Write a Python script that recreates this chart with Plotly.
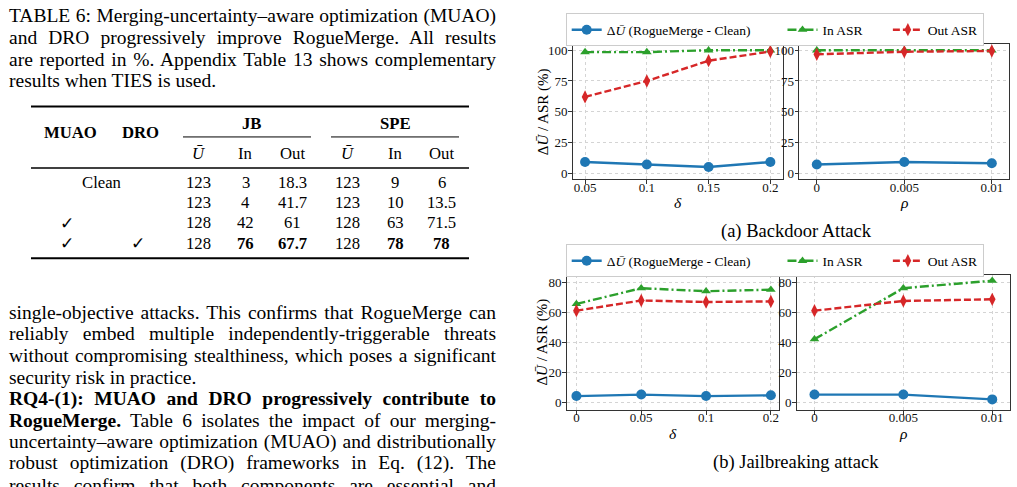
import json
import plotly.graph_objects as go

W, H = 1017, 487

# ---------------- chart data ----------------
delta_bd = ["0.05", "0.1", "0.15", "0.2"]
rho_bd = ["0", "0.005", "0.01"]
delta_jb = ["0", "0.05", "0.1", "0.2"]
rho_jb = ["0", "0.005", "0.01"]

bd_delta_du = [9, 7, 5, 9]
bd_delta_in = [98.5, 98.5, 100, 100]
bd_delta_out = [62, 75, 91.5, 99]
bd_rho_du = [7, 9, 8]
bd_rho_in = [100, 100, 100]
bd_rho_out = [96.7, 98.8, 99.4]

jb_delta_du = [4, 5, 4, 4.5]
jb_delta_in = [65.5, 76, 74, 75]
jb_delta_out = [61, 67.8, 66.8, 67.2]
jb_rho_du = [5, 5, 1.8]
jb_rho_in = [42, 76, 81]
jb_rho_out = [61, 67.5, 68.6]

yticks_bd = [0, 25, 50, 75, 100]
yticks_jb = [0, 20, 40, 60, 80]

series_names = ["Δ<i>Ū</i> (RogueMerge - Clean)", "In ASR", "Out ASR"]
legend_pad = [8, 6, 0]  # trailing non-breaking spaces used as legend item spacing

# ---------------- table data ----------------
tbl_muao = ["", "", "✓", "✓"]
tbl_dro = ["", "", "", "✓"]
tbl_jb_u = ["123", "123", "128", "128"]
tbl_jb_in = ["3", "4", "42", "<b>76</b>"]
tbl_jb_out = ["18.3", "41.7", "61", "<b>67.7</b>"]
tbl_spe_u = ["123", "123", "128", "128"]
tbl_spe_in = ["9", "10", "63", "<b>78</b>"]
tbl_spe_out = ["6", "13.5", "71.5", "<b>78</b>"]
tbl_sub = ["<i>Ū</i>", "In", "Out", "<i>Ū</i>", "In", "Out"]

caption_lines = [
    "TABLE 6: Merging-uncertainty–aware optimization (MUAO)",
    "and DRO progressively improve RogueMerge. All results",
    "are reported in %. Appendix Table 13 shows complementary",
    "results when TIES is used.",
]
caption_justify = [True, True, True, False]
body_lines = [
    "single-objective attacks. This confirms that RogueMerge can",
    "reliably embed multiple independently-triggerable threats",
    "without compromising stealthiness, which poses a significant",
    "security risk in practice.",
    "<b>RQ4-(1): MUAO and DRO progressively contribute to</b>",
    "<b>RogueMerge.</b> Table 6 isolates the impact of our merging-",
    "uncertainty–aware optimization (MUAO) and distributionally",
    "robust optimization (DRO) frameworks in Eq. (12). The",
    "results confirm that both components are essential and",
]
body_justify = [True, True, True, False, True, True, True, True, True]

SERIF = "Liberation Serif"
BLUE, GREEN, RED = "#1f77b4", "#2ca02c", "#d62728"


def px(x):
    return x / W


def py(y):
    return 1 - y / H


fig = go.Figure()


def lname(i):
    return series_names[i] + "\u00a0" * legend_pad[i]


def add_panel(cats, du, inn, out, xa, ya, legend, show):
    fig.add_trace(go.Scatter(
        x=cats, y=du, xaxis=xa, yaxis=ya, mode="lines+markers", name=lname(0),
        line=dict(color=BLUE, width=2.4), marker=dict(symbol="circle", size=10),
        legend=legend, showlegend=show))
    fig.add_trace(go.Scatter(
        x=cats, y=inn, xaxis=xa, yaxis=ya, mode="lines+markers", name=lname(1),
        line=dict(color=GREEN, width=2.4, dash="9px,3px,2px,3px"),
        marker=dict(symbol="triangle-up", size=8.5),
        legend=legend, showlegend=show))
    fig.add_trace(go.Scatter(
        x=cats, y=out, xaxis=xa, yaxis=ya, mode="lines+markers", name=lname(2),
        line=dict(color=RED, width=2.4, dash="7px,3px"),
        marker=dict(symbol="diamond-tall", size=9.5),
        legend=legend, showlegend=show))


add_panel(delta_bd, bd_delta_du, bd_delta_in, bd_delta_out, "x", "y", "legend", True)
add_panel(rho_bd, bd_rho_du, bd_rho_in, bd_rho_out, "x2", "y2", "legend", False)
add_panel(delta_jb, jb_delta_du, jb_delta_in, jb_delta_out, "x3", "y3", "legend2", True)
add_panel(rho_jb, jb_rho_du, jb_rho_in, jb_rho_out, "x4", "y4", "legend2", False)

tickfont = dict(family=SERIF, size=13, color="#111")

common_ax = dict(showline=True, mirror=True, linecolor="#333", linewidth=1.4,
                 ticks="outside", ticklen=3.5, tickwidth=1, tickcolor="#333",
                 showgrid=True, gridcolor="#d4d4d4", griddash="dot", gridwidth=1,
                 tickfont=tickfont, zeroline=False, fixedrange=True)


def xax(x0, x1, anchor, cats, rng):
    return dict(domain=[px(x0), px(x1)], anchor=anchor, type="category",
                categoryorder="array", categoryarray=cats, range=rng,
                ticklabelstandoff=-8, **common_ax)


def yax(y0, y1, anchor, ticks, rng):
    return dict(domain=[py(y1), py(y0)], anchor=anchor, range=rng,
                tickmode="array", tickvals=ticks, ticklabelstandoff=-2, **common_ax)


annotations = []
shapes = []
justify_targets = {}


def txt(x, y, text, size, xanchor="center", family=SERIF, textangle=0, color="black",
        yanchor="middle"):
    annotations.append(dict(x=px(x), y=py(y), xref="paper", yref="paper", text=text,
                            showarrow=False, xanchor=xanchor, yanchor=yanchor,
                            align=xanchor if xanchor != "center" else "center",
                            font=dict(family=family, size=size, color=color),
                            textangle=textangle))


def hline(x0, x1, y, w):
    shapes.append(dict(type="line", xref="paper", yref="paper", x0=px(x0), x1=px(x1),
                       y0=py(y), y1=py(y), line=dict(color="black", width=w)))


# left column text
BODY = 19.5
TEXT_L, TEXT_R = 7, 494
cap_y = [15, 36.7, 58.3, 80]
for yy, line, j in zip(cap_y, caption_lines, caption_justify):
    txt(TEXT_L, yy, line, BODY, xanchor="left")
    if j:
        justify_targets[line] = TEXT_R - TEXT_L
body_y = [312.7, 334.3, 356, 377.7, 399.3, 421, 442.7, 464.3, 486]
for yy, line, j in zip(body_y, body_lines, body_justify):
    txt(TEXT_L, yy, line, BODY, xanchor="left")
    if j:
        justify_targets[line] = TEXT_R - TEXT_L

# table
TS = 16.7
hline(31, 469, 106, 2)
hline(183, 311, 136.5, 1)
hline(331, 459, 136.5, 1)
hline(31, 469, 167.7, 1.3)
hline(31, 469, 258.3, 2)
txt(70, 131.7, "<b>MUAO</b>", TS)
txt(140.5, 131.7, "<b>DRO</b>", TS)
txt(251, 123, "<b>JB</b>", TS)
txt(395, 123, "<b>SPE</b>", TS)
col_x = [198, 245.7, 292.3, 347.3, 395, 441.7]
for cx, s in zip(col_x, tbl_sub):
    txt(cx, 152.7, s, TS)
row_y = [182.3, 202.3, 222.7, 243.3]
txt(101.5, row_y[0], "Clean", TS)
for i, ry in enumerate(row_y):
    if tbl_muao[i]:
        txt(66.7, ry, tbl_muao[i], 17, family="DejaVu Sans")
    if tbl_dro[i]:
        txt(138, ry, tbl_dro[i], 17, family="DejaVu Sans")
    vals = [tbl_jb_u[i], tbl_jb_in[i], tbl_jb_out[i], tbl_spe_u[i], tbl_spe_in[i], tbl_spe_out[i]]
    for cx, v in zip(col_x, vals):
        txt(cx, ry, v, TS)

# chart titles
txt(543, 111.7, "Δ<i>Ū</i> / ASR (%)", 15, textangle=-90)
txt(543, 343, "Δ<i>Ū</i> / ASR (%)", 15, textangle=-90)
txt(677.7, 192, "<i>δ</i>", 15.5, yanchor="top")
txt(904.3, 192, "<i>ρ</i>", 15.5, yanchor="top")
txt(673, 424, "<i>δ</i>", 15.5, yanchor="top")
txt(903.3, 424, "<i>ρ</i>", 15.5, yanchor="top")
txt(796, 231.7, "(a) Backdoor Attack", 18.5)
txt(796, 463, "(b) Jailbreaking attack", 18.5)

legend_common = dict(orientation="h", xanchor="left", yanchor="top", bgcolor="white",
                     bordercolor="#cccccc", borderwidth=1,
                     font=dict(family=SERIF, size=13.5, color="black"))

fig.update_layout(
    width=W, height=H, margin=dict(l=0, r=0, t=0, b=0),
    paper_bgcolor="white", plot_bgcolor="white",
    showlegend=True,
    xaxis=xax(572.7, 782.7, "y", delta_bd, [-0.2, 3.2]),
    yaxis=yax(43.3, 179, "x", yticks_bd, [-5, 105]),
    xaxis2=xax(799.3, 1009.3, "y2", rho_bd, [-0.2, 2.2]),
    yaxis2=yax(43.3, 179, "x2", yticks_bd, [-5, 105]),
    xaxis3=xax(566.7, 779.3, "y3", delta_jb, [-0.15, 3.13]),
    yaxis3=yax(275, 410.7, "x3", yticks_jb, [-5.3, 84.9]),
    xaxis4=xax(796.7, 1010, "y4", rho_jb, [-0.2, 2.2]),
    yaxis4=yax(275, 410.7, "x4", yticks_jb, [-5.3, 84.9]),
    legend=dict(x=px(565.7), y=py(12.5), **legend_common),
    legend2=dict(x=px(565.7), y=py(244.5), **legend_common),
    annotations=annotations, shapes=shapes,
)

# justify the paragraph lines (like the typeset page) by widening word spacing
post_js = """
var gd = document.getElementById('{plot_id}');
var targets = %s;
gd.querySelectorAll('text.annotation-text').forEach(function(t){
  var key = t.getAttribute('data-unformatted');
  if (!(key in targets)) return;
  var w = t.getComputedTextLength();
  var n = (t.textContent.match(/ /g) || []).length;
  if (n > 0) { t.style.wordSpacing = ((targets[key] - w) / n) + 'px'; }
});
""" % json.dumps(justify_targets)

fig.write_html("out.html", config={"displayModeBar": False}, post_script=post_js)
